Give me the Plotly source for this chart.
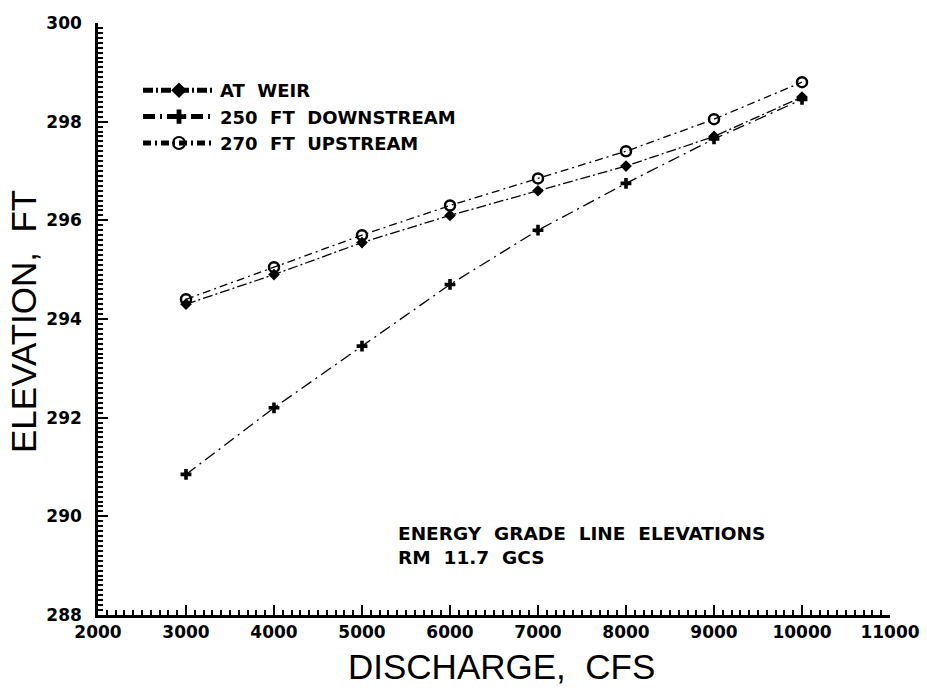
import plotly.graph_objects as go

discharge = [3000, 4000, 5000, 6000, 7000, 8000, 9000, 10000]
at_weir = [294.3, 294.9, 295.55, 296.1, 296.6, 297.1, 297.7, 298.5]
downstream_250 = [290.85, 292.2, 293.45, 294.7, 295.8, 296.75, 297.65, 298.45]
upstream_270 = [294.4, 295.05, 295.7, 296.3, 296.85, 297.4, 298.05, 298.8]

x_ticks = [2000, 3000, 4000, 5000, 6000, 7000, 8000, 9000, 10000, 11000]
y_ticks = [288, 290, 292, 294, 296, 298, 300]

W, H = 927, 688
L, R, T, B = 98, 37, 23, 73
PW, PH = W - L - R, H - T - B

fig = go.Figure()
fig.add_trace(go.Scatter(
    x=discharge, y=at_weir, name="AT  WEIR", mode="lines+markers",
    line=dict(color="black", width=1.3, dash="10px,3px,2px,3px"),
    marker=dict(symbol="diamond", size=9, color="black")))
fig.add_trace(go.Scatter(
    x=discharge, y=downstream_250, name="250  FT  DOWNSTREAM", mode="lines+markers",
    line=dict(color="black", width=1.3, dash="12px,5px,2px,5px"),
    marker=dict(symbol="cross", size=9, color="black")))
fig.add_trace(go.Scatter(
    x=discharge, y=upstream_270, name="270  FT  UPSTREAM", mode="lines+markers",
    line=dict(color="black", width=1.3, dash="8px,4px,2px,4px"),
    marker=dict(symbol="circle-open", size=10, color="black", line=dict(width=2.5))))

tickfont = dict(family="DejaVu Sans", size=17, color="black", weight="bold")
fig.update_xaxes(
    range=[2000, 11000], tickvals=x_ticks, ticktext=[str(v) for v in x_ticks],
    ticks="inside", ticklen=10, tickwidth=2, tickcolor="black", automargin=False,
    showline=True, linecolor="black", linewidth=2.5, showgrid=False, zeroline=False,
    tickfont=tickfont,
    minor=dict(dtick=100, ticks="inside", ticklen=5, tickwidth=1.5, tickcolor="black"))
fig.update_yaxes(
    range=[288, 300], tickvals=y_ticks, ticktext=[str(v) for v in y_ticks],
    ticks="inside", ticklen=10, tickwidth=2, tickcolor="black", automargin=False,
    showline=True, linecolor="black", linewidth=2.5, showgrid=False, zeroline=False,
    tickfont=tickfont, ticklabelstandoff=10,
    minor=dict(dtick=0.1, ticks="inside", ticklen=5, tickwidth=1.5, tickcolor="black"))

fig.add_annotation(text="DISCHARGE,  CFS", xref="paper", yref="paper",
                   x=(501 - L) / PW, y=1 - (666 - T) / PH, xanchor="center", yanchor="middle",
                   showarrow=False,
                   font=dict(family="Liberation Sans", size=35, color="black"))
fig.add_annotation(text="ELEVATION,  FT", xref="paper", yref="paper",
                   x=(23 - L) / PW, y=1 - (322 - T) / PH, xanchor="center", yanchor="middle",
                   showarrow=False, textangle=-90,
                   font=dict(family="Liberation Sans", size=35, color="black"))
fig.add_annotation(text="ENERGY  GRADE  LINE  ELEVATIONS<br>RM  11.7  GCS",
                   xref="paper", yref="paper", x=(396 - L) / PW, y=1 - (521 - T) / PH,
                   xanchor="left", yanchor="top", align="left", showarrow=False,
                   font=dict(family="DejaVu Sans", size=18.5, color="black", weight="bold"))

fig.update_layout(
    width=W, height=H, margin=dict(l=L, r=R, t=T, b=B),
    paper_bgcolor="white", plot_bgcolor="white",
    showlegend=True,
    legend=dict(x=(138 - L) / PW, y=1 - (72 - T) / PH,
                xanchor="left", yanchor="top", bgcolor="rgba(0,0,0,0)",
                font=dict(family="DejaVu Sans", size=18, color="black", weight="bold"),
                itemwidth=72, tracegroupgap=0, itemsizing="constant"),
)

fig.write_html("out.html")
